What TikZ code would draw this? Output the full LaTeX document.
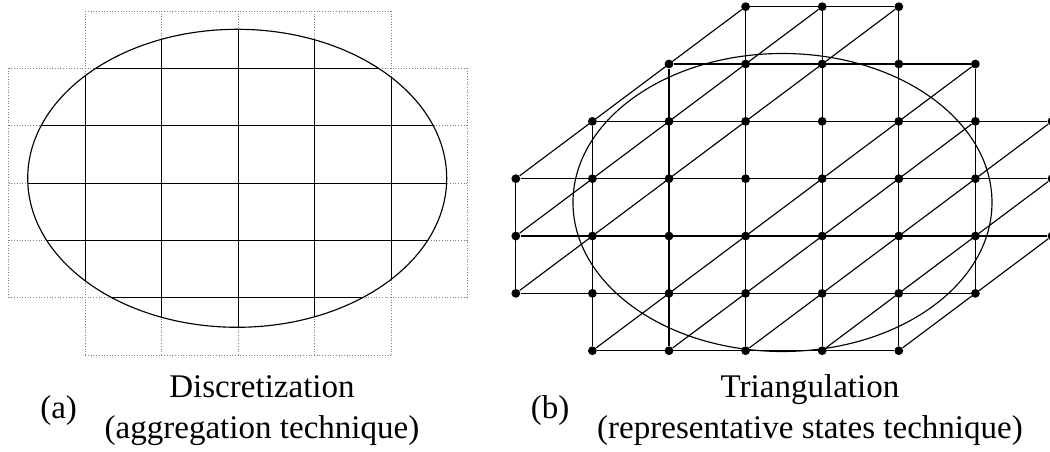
\documentclass[tikz,border=0pt]{standalone}
\usepackage{fontspec}
\setmainfont{Liberation Serif}
\usetikzlibrary{positioning}

\begin{document}
\begin{tikzpicture}[
    cell/.style={line width=0.65pt, black},
    outcell/.style={line width=0.55pt, gray, densely dotted},
    edge/.style={line width=0.65pt, black},
    region/.style={line width=0.65pt, black},
    state/.style={circle, fill=black, inner sep=0pt, minimum size=5pt},
    caption/.style={align=center, inner sep=0pt, font=\fontsize{18.8}{23.3}\selectfont},
    tag/.style={inner sep=0pt, font=\fontsize{18.8}{23.3}\selectfont}
  ]
  \useasboundingbox (0,0) rectangle (21,9.04);

  % (a) aggregation: square cells, solid inside the region
  \coordinate (ca) at (4.744,5.474);
  \begin{scope}[shift={(0.174,1.94)}, x=1.53cm, y=1.146cm]
    \foreach \k/\lo/\hi in {0/1/5,1/0/6,2/0/6,3/0/6,4/0/6,5/0/6,6/1/5} {
      \draw[outcell] (\k,\lo) -- (\k,\hi);
      \draw[outcell] (\lo,\k) -- (\hi,\k);
    }
    \begin{scope}
      \clip (ca) ellipse [x radius=4.19cm, y radius=2.98cm];
      \foreach \k/\lo/\hi in {0/1/5,1/0/6,2/0/6,3/0/6,4/0/6,5/0/6,6/1/5} {
        \draw[cell] (\k,\lo) -- (\k,\hi);
        \draw[cell] (\lo,\k) -- (\hi,\k);
      }
    \end{scope}
  \end{scope}
  \draw[region] (ca) ellipse [x radius=4.19cm, y radius=2.98cm];

  % (b) triangulation: representative states
  \coordinate (cb) at (15.65,4.99);
  \begin{scope}[shift={(10.316,2.026)}, x=1.532cm, y=1.1467cm]
    \foreach \row/\lo/\hi in {0/1/5,1/0/6,2/0/7,3/0/7,4/1/7,5/2/6,6/3/5}
      \foreach \col in {\lo,...,\hi}
        \node[state] (s-\col-\row) at (\col,\row) {};
    % rows
    \foreach \row/\lo/\hi in {0/1/5,1/0/6,2/0/7,3/0/7,4/1/7,5/2/6,6/3/5}
      \draw[edge] (s-\lo-\row) -- (s-\hi-\row);
    % columns
    \foreach \col/\lo/\hi in {0/1/3,1/0/4,2/0/5,3/0/6,4/0/6,5/0/6,6/1/5,7/2/4}
      \draw[edge] (s-\col-\lo) -- (s-\col-\hi);
    % diagonals
    \foreach \p/\q in {0-3/3-6,0-2/4-6,0-1/5-6,1-0/6-5,2-0/6-4,3-0/7-4,4-0/7-3,5-0/7-2}
      \draw[edge] (s-\p) -- (s-\q);
  \end{scope}
  \draw[region] (cb) ellipse [x radius=4.19cm, y radius=2.98cm];

  % captions
  \node[caption] (capa) at (5.24,0.83) {Discretization\\(aggregation technique)};
  \node[tag, left=0.54cm of capa] (taga) {(a)};
  \node[caption] (capb) at (16.2,0.83) {Triangulation\\(representative states technique)};
  \node[tag, left=0.54cm of capb] (tagb) {(b)};
\end{tikzpicture}
\end{document}
